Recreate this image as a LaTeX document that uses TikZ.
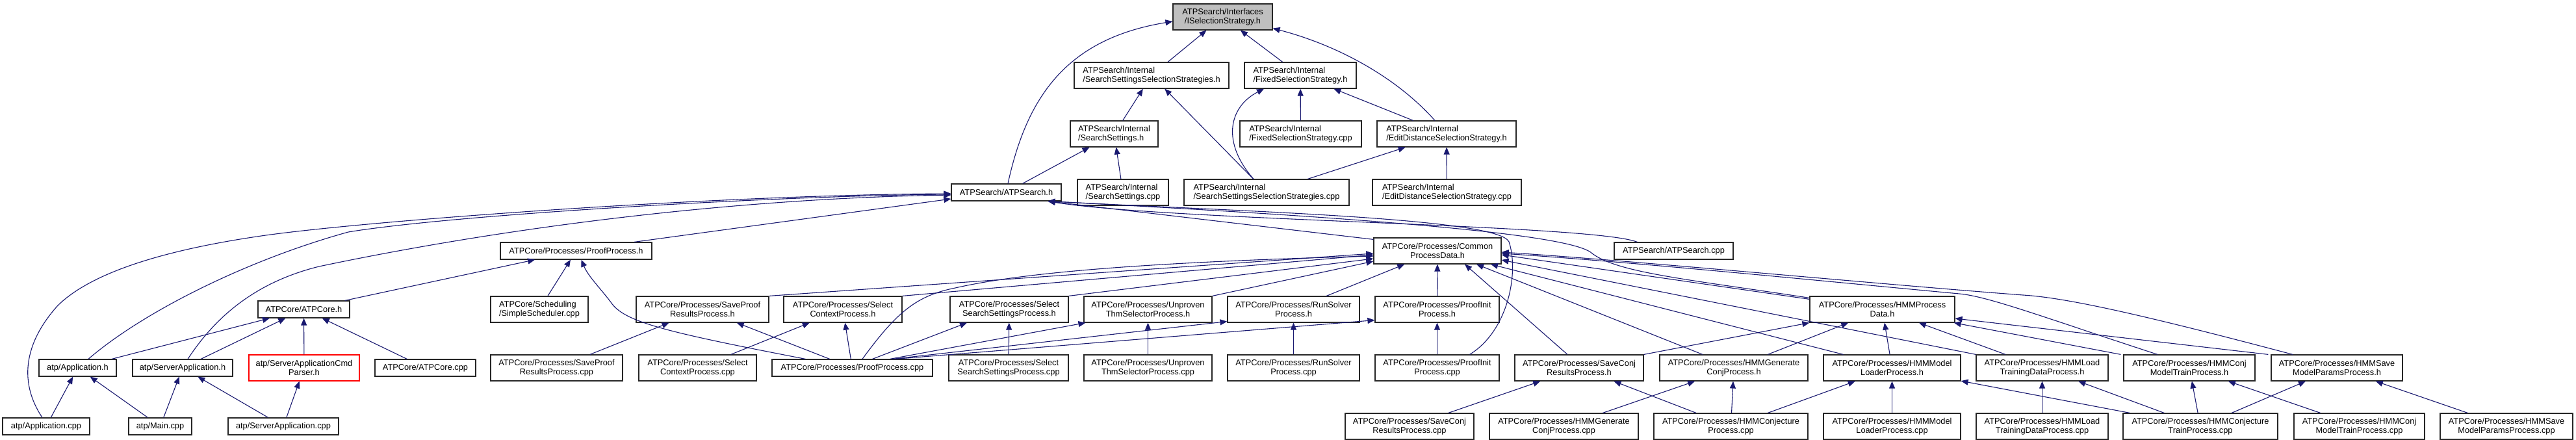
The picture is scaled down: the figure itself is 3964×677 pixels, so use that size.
\documentclass[tikz,border=0pt]{standalone}
\usepackage{fontspec}
\setmainfont{Liberation Sans}
\usetikzlibrary{arrows.meta}
\definecolor{edgeblue}{HTML}{191970}
\definecolor{boxgrey}{HTML}{BFBFBF}
\tikzset{
  box/.style={draw=black!85, line width=1.2pt, fill=white, inner sep=0pt, align=center,
              font=\fontsize{12.8}{14.3}\selectfont, text=black},
  one/.style={box, minimum height=26pt},
  two/.style={box, minimum height=40pt},
  lft/.style={align=left},
  dep/.style={draw=edgeblue, line width=1.1pt, -{Triangle[length=11pt,width=9pt]}},
}
\begin{document}
\begin{tikzpicture}[x=1pt,y=-1pt]
\useasboundingbox (0,0) rectangle (3964,677);
% row 1
\node[two, fill=boxgrey, minimum width=153pt] (is) at (1881.5,26) {ATPSearch/Interfaces\\/ISelectionStrategy.h};
% row 2
\node[two, lft, minimum width=238pt] (ssssh) at (1772,116) {ATPSearch/Internal\\/SearchSettingsSelectionStrategies.h};
\node[two, lft, minimum width=172pt] (fssh) at (2001,116) {ATPSearch/Internal\\/FixedSelectionStrategy.h};
% row 3
\node[two, lft, minimum width=135pt] (ssh) at (1714.5,206) {ATPSearch/Internal\\/SearchSettings.h};
\node[two, lft, minimum width=187pt] (fsscpp) at (2001.5,206) {ATPSearch/Internal\\/FixedSelectionStrategy.cpp};
\node[two, lft, minimum width=214pt] (edssh) at (2226,206) {ATPSearch/Internal\\/EditDistanceSelectionStrategy.h};
% row 4
\node[one, minimum width=169pt] (ash) at (1548.5,296) {ATPSearch/ATPSearch.h};
\node[two, lft, minimum width=140pt] (sscpp) at (1728,296) {ATPSearch/Internal\\/SearchSettings.cpp};
\node[two, lft, minimum width=254pt] (sssscpp) at (1949,296) {ATPSearch/Internal\\/SearchSettingsSelectionStrategies.cpp};
\node[two, lft, minimum width=229pt] (edsscpp) at (2226.5,296) {ATPSearch/Internal\\/EditDistanceSelectionStrategy.cpp};
% row 5
\node[one, minimum width=233pt] (pph) at (886.5,386) {ATPCore/Processes/ProofProcess.h};
\node[two, minimum width=196pt] (cpd) at (2212,386) {ATPCore/Processes/Common\\ProcessData.h};
\node[one, minimum width=183pt] (ascpp) at (2575.5,386) {ATPSearch/ATPSearch.cpp};
% row 6
\node[one, minimum width=141pt] (coreh) at (467.5,476) {ATPCore/ATPCore.h};
\node[two, lft, minimum width=150pt] (sched) at (830,476) {ATPCore/Scheduling\\/SimpleScheduler.cpp};
\node[two, minimum width=204pt] (sprh) at (1081,476) {ATPCore/Processes/SaveProof\\ResultsProcess.h};
\node[two, minimum width=182pt] (sch) at (1297,476) {ATPCore/Processes/Select\\ContextProcess.h};
\node[two, minimum width=182pt] (ssph) at (1553,476) {ATPCore/Processes/Select\\SearchSettingsProcess.h};
\node[two, minimum width=197pt] (uth) at (1766.5,476) {ATPCore/Processes/Unproven\\ThmSelectorProcess.h};
\node[two, minimum width=203pt] (rsh) at (1990.5,476) {ATPCore/Processes/RunSolver\\Process.h};
\node[two, minimum width=191pt] (pih) at (2211.5,476) {ATPCore/Processes/ProofInit\\Process.h};
\node[two, minimum width=223pt] (hpd) at (2896.5,476) {ATPCore/Processes/HMMProcess\\Data.h};
% row 7
\node[one, minimum width=119pt] (apph) at (119.5,566) {atp/Application.h};
\node[one, minimum width=154pt] (sapph) at (281,566) {atp/ServerApplication.h};
\node[two, draw=red, minimum width=170pt] (cmdh) at (468,566) {atp/ServerApplicationCmd\\Parser.h};
\node[one, minimum width=155pt] (corecpp) at (654.5,566) {ATPCore/ATPCore.cpp};
\node[two, minimum width=203pt] (sprcpp) at (856.5,566) {ATPCore/Processes/SaveProof\\ResultsProcess.cpp};
\node[two, minimum width=181pt] (sccpp) at (1073.5,566) {ATPCore/Processes/Select\\ContextProcess.cpp};
\node[one, minimum width=247pt] (ppcpp) at (1311.5,566) {ATPCore/Processes/ProofProcess.cpp};
\node[two, minimum width=184pt] (sspcpp) at (1552,566) {ATPCore/Processes/Select\\SearchSettingsProcess.cpp};
\node[two, minimum width=197pt] (utcpp) at (1766.5,566) {ATPCore/Processes/Unproven\\ThmSelectorProcess.cpp};
\node[two, minimum width=203pt] (rscpp) at (1990.5,566) {ATPCore/Processes/RunSolver\\Process.cpp};
\node[two, minimum width=191pt] (picpp) at (2211.5,566) {ATPCore/Processes/ProofInit\\Process.cpp};
\node[two, minimum width=198pt] (scrh) at (2430,566) {ATPCore/Processes/SaveConj\\ResultsProcess.h};
\node[two, minimum width=228pt] (hgh) at (2668,566) {ATPCore/Processes/HMMGenerate\\ConjProcess.h};
\node[two, minimum width=211pt] (hmlh) at (2911.5,566) {ATPCore/Processes/HMMModel\\LoaderProcess.h};
\node[two, minimum width=203pt] (hlth) at (3142.5,566) {ATPCore/Processes/HMMLoad\\TrainingDataProcess.h};
\node[two, minimum width=202pt] (hcmh) at (3369,566) {ATPCore/Processes/HMMConj\\ModelTrainProcess.h};
\node[two, minimum width=202pt] (hsmh) at (3596,566) {ATPCore/Processes/HMMSave\\ModelParamsProcess.h};
% row 8
\node[one, minimum width=134pt] (appcpp) at (71,656) {atp/Application.cpp};
\node[one, minimum width=97pt] (maincpp) at (246.5,656) {atp/Main.cpp};
\node[one, minimum width=170pt] (sappcpp) at (436,656) {atp/ServerApplication.cpp};
\node[two, minimum width=198pt] (scrcpp) at (2169,656) {ATPCore/Processes/SaveConj\\ResultsProcess.cpp};
\node[two, minimum width=229pt] (hgcpp) at (2406.5,656) {ATPCore/Processes/HMMGenerate\\ConjProcess.cpp};
\node[two, minimum width=237pt] (hcpcpp) at (2663.5,656) {ATPCore/Processes/HMMConjecture\\Process.cpp};
\node[two, minimum width=211pt] (hmlcpp) at (2911.5,656) {ATPCore/Processes/HMMModel\\LoaderProcess.cpp};
\node[two, minimum width=203pt] (hltcpp) at (3142.5,656) {ATPCore/Processes/HMMLoad\\TrainingDataProcess.cpp};
\node[two, minimum width=238pt] (hctcpp) at (3386,656) {ATPCore/Processes/HMMConjecture\\TrainProcess.cpp};
\node[two, minimum width=201pt] (hcmcpp) at (3630.5,656) {ATPCore/Processes/HMMConj\\ModelTrainProcess.cpp};
\node[two, minimum width=204pt] (hsmcpp) at (3857,656) {ATPCore/Processes/HMMSave\\ModelParamsProcess.cpp};

% ---- edges: top part
\draw[dep] (ssssh) -- (is);
\draw[dep] (fssh) -- (is);
\draw[dep] ([xshift=-18pt]edssh.north) .. controls (2150,120) and (2060,70) .. ([yshift=3pt]is.south east);
\draw[dep] ([xshift=2.5pt]ash.north) .. controls (1580,150) and (1640,60) .. ([yshift=-7pt]is.west);
\draw[dep] (ssh) -- (ssssh);
\draw[dep] (sssscpp) -- (ssssh);
\draw[dep] ([xshift=-20pt]sssscpp.north) .. controls (1880,220) and (1890,165) .. ([xshift=-56pt]fssh.south);
\draw[dep] (fsscpp) -- (fssh);
\draw[dep] (edssh) -- (fssh);
\draw[dep] (sssscpp) -- (edssh);
\draw[dep] (edsscpp) -- (edssh);
\draw[dep] (ash) -- (ssh);
\draw[dep] (sscpp) -- (ssh);

% ---- into ATPSearch.h
\draw[dep] ([xshift=-6pt]appcpp.north) .. controls (30,590) and (35,530) .. (89,470)
  .. controls (140,420) and (250,385) .. (402,363)
  .. controls (560,340) and (1100,300) .. ([yshift=-2pt]ash.west);
\draw[dep] ([xshift=16.5pt]apph.north) .. controls (220,480) and (380,400) .. (536,357)
  .. controls (700,330) and (1200,301) .. ([yshift=-3pt]ash.west);
\draw[dep] ([xshift=8pt]sapph.north) .. controls (330,490) and (390,435) .. (491,410)
  .. controls (800,345) and (1150,305) .. ([yshift=-4pt]ash.west);
\draw[dep] ([xshift=89.5pt]pph.north) -- ([yshift=-10pt]ash.west);
\draw[dep] ([yshift=-3pt]cpd.north west) -- ([xshift=64pt]ash.south);
\draw[dep] ([xshift=-56pt]ascpp.north) .. controls (2450,345) and (1800,340) .. ([xshift=64pt]ash.south);
\draw[dep] ([xshift=50pt]picpp.north) .. controls (2320,510) and (2338,420) .. (2322,372)
  .. controls (2305,335) and (1900,325) .. ([xshift=64pt]ash.south);
\draw[dep] ([yshift=-3pt]hpd.north west) .. controls (2600,430) and (2490,420) .. (2450,390)
  .. controls (2420,360) and (2100,335) .. ([xshift=64pt]ash.south);

% ---- ProofProcess.h
\draw[dep] (coreh) -- (pph);
\draw[dep] (sched) -- (pph);
\draw[dep] ([xshift=-72pt]ppcpp.north) .. controls (1020,510) and (960,495) .. (940,465)
  .. controls (925,445) and (905,425) .. ([xshift=8pt]pph.south);

% ---- ProofProcess.cpp others
\draw[dep] (ppcpp) -- (sprh);
\draw[dep] (ppcpp) -- (sch);
\draw[dep] ([xshift=31pt]ppcpp.north) -- ([xshift=-65pt]ssph.south);
\draw[dep] ([xshift=58pt]ppcpp.north) -- ([xshift=3pt]uth.south west);
\draw[dep] ([xshift=62pt]ppcpp.north) -- ([yshift=2pt]rsh.south west);
\draw[dep] ([xshift=66pt]ppcpp.north) -- ([yshift=4pt]pih.south west);
\draw[dep] ([xshift=15.5pt]ppcpp.north) .. controls (1380,480) and (1410,455) .. (1470,443)
  .. controls (1550,425) and (1700,405) .. ([yshift=-8pt]cpd.west);

% ---- CommonProcessData.h
\draw[dep] (sprh.north east) -- ([yshift=-4pt]cpd.west);
\draw[dep] (sch.north east) -- ([yshift=-6pt]cpd.west);
\draw[dep] (ssph.north east) -- ([yshift=-12pt]cpd.west);
\draw[dep] (uth.north east) -- ([yshift=-16pt]cpd.west);
\draw[dep] (rsh) -- (cpd);
\draw[dep] (pih) -- (cpd);
\draw[dep] ([xshift=-18pt]scrh.north) -- ([xshift=42pt]cpd.south);
\draw[dep] ([xshift=-48pt]hgh.north) -- ([xshift=60pt]cpd.south);
\draw[dep] ([xshift=-75pt]hmlh.north) -- ([xshift=82pt]cpd.south);
\draw[dep] (hlth.north west) -- ([yshift=-14pt]cpd.east);
\draw[dep] ([yshift=-5pt]hpd.north west) -- ([yshift=-6pt]cpd.east);
\draw[dep] ([xshift=-68pt]hsmh.north) .. controls (3300,485) and (3180,458) .. (3113,454)
  .. controls (2900,438) and (2500,400) .. ([yshift=-2pt]cpd.east);
\draw[dep] ([xshift=-49pt]hcmh.north) .. controls (3150,490) and (3060,456) .. (3015,452)
  .. controls (2800,432) and (2500,402) .. ([yshift=-4pt]cpd.east);

% ---- HMMProcessData.h
\draw[dep] (scrh.north east) -- (hpd.south west);
\draw[dep] (hgh) -- (hpd);
\draw[dep] (hmlh) -- (hpd);
\draw[dep] (hlth) -- (hpd);
\draw[dep] ([xshift=-4pt]hcmh.north west) -- ([xshift=-2pt]hpd.south east);
\draw[dep] ([xshift=-4pt]hsmh.north west) -- ([yshift=-14pt]hpd.east);

% ---- simple rank edges
\draw[dep] (sprcpp) -- (sprh);
\draw[dep] (sccpp) -- (sch);
\draw[dep] (sspcpp) -- (ssph);
\draw[dep] (utcpp) -- (uth);
\draw[dep] (rscpp) -- (rsh);
\draw[dep] (picpp) -- (pih);
\draw[dep] (apph) -- (coreh);
\draw[dep] (sapph) -- (coreh);
\draw[dep] (cmdh) -- (coreh);
\draw[dep] (corecpp) -- (coreh);
\draw[dep] (appcpp) -- (apph);
\draw[dep] (maincpp) -- (apph);
\draw[dep] (maincpp) -- (sapph);
\draw[dep] (sappcpp) -- (sapph);
\draw[dep] (sappcpp) -- (cmdh);
\draw[dep] (scrcpp) -- (scrh);
\draw[dep] (hcpcpp) -- (scrh);
\draw[dep] (hgcpp) -- (hgh);
\draw[dep] (hcpcpp) -- (hgh);
\draw[dep] (hcpcpp) -- (hmlh);
\draw[dep] (hmlcpp) -- (hmlh);
\draw[dep] (hctcpp) -- (hmlh);
\draw[dep] (hltcpp) -- (hlth);
\draw[dep] (hctcpp) -- (hlth);
\draw[dep] (hctcpp) -- (hcmh);
\draw[dep] (hctcpp) -- (hsmh);
\draw[dep] (hcmcpp) -- (hcmh);
\draw[dep] (hsmcpp) -- (hsmh);
\end{tikzpicture}
\end{document}
